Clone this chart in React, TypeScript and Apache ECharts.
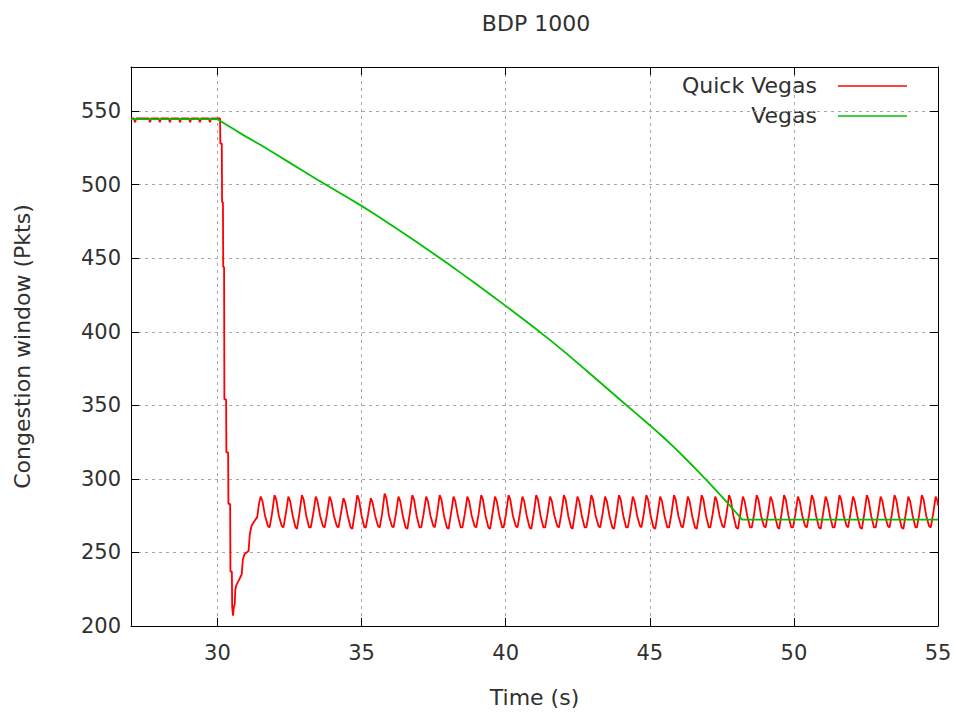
import React, { useEffect, useRef } from "react";
import * as echarts from "echarts";

const TITLE = "BDP 1000";
const X_NAME = "Time (s)";
const Y_NAME = "Congestion window (Pkts)";
const SERIES_NAMES = ["Quick Vegas", "Vegas"];
const X_MIN = 27;
const X_MAX = 55;
const Y_MIN = 200;
const Y_MAX = 580;
const X_TICKS = [30, 35, 40, 45, 50, 55];
const Y_INTERVAL = 50;

// Quick Vegas: steady state before 30 s
const quickVegasBefore: [number, number][] = [
  [27.0, 545], [27.1, 545], [27.14, 542.5], [27.18, 545], [27.62, 545], [27.66, 542.5], [27.7, 545],
  [27.96, 545], [28.0, 542.5], [28.04, 545], [28.31, 545], [28.35, 542.5], [28.39, 545],
  [28.66, 545], [28.7, 542.5], [28.74, 545], [29.01, 545], [29.05, 542.5], [29.09, 545],
  [29.35, 545], [29.39, 542.5], [29.43, 545], [29.7, 545], [29.74, 542.5], [29.78, 545], [30.06, 545],
];

// Quick Vegas: drop and recovery
const quickVegasDrop: [number, number][] = [
  [30.09, 545], [30.1, 528], [30.15, 528], [30.16, 488], [30.19, 488], [30.2, 444], [30.23, 444],
  [30.24, 354], [30.3, 354], [30.31, 318], [30.37, 318], [30.38, 283], [30.44, 283], [30.45, 237],
  [30.5, 237], [30.51, 213], [30.53, 213], [30.54, 207], [30.56, 207], [30.57, 213], [30.6, 215],
  [30.62, 225], [30.66, 228], [30.74, 231], [30.84, 235], [30.88, 245], [30.94, 249], [31.08, 251],
  [31.12, 262], [31.18, 268], [31.27, 271], [31.38, 274], [31.44, 283],
];

// Quick Vegas: oscillation after recovery
const quickVegasOsc: [number, number][] = [
  [31.5, 288], [31.56, 285], [31.65, 275], [31.75, 268],
  [31.81, 267], [31.89, 276], [31.98, 289], [32.04, 286], [32.13, 275], [32.23, 268],
  [32.29, 267], [32.37, 276], [32.46, 288], [32.52, 285], [32.61, 275], [32.71, 267],
  [32.76, 266], [32.84, 276], [32.93, 289], [32.99, 286], [33.08, 275], [33.18, 267],
  [33.24, 267], [33.32, 276], [33.41, 288], [33.47, 285], [33.56, 275], [33.66, 268],
  [33.72, 267], [33.8, 276], [33.89, 288], [33.95, 285], [34.04, 275], [34.14, 268],
  [34.2, 267], [34.28, 276], [34.37, 287], [34.43, 284], [34.52, 275], [34.62, 267],
  [34.68, 266], [34.76, 276], [34.85, 289], [34.91, 286], [35.0, 275], [35.1, 267],
  [35.15, 267], [35.23, 276], [35.32, 287], [35.38, 284], [35.47, 275], [35.57, 268],
  [35.63, 267], [35.71, 276], [35.8, 290], [35.86, 287], [35.95, 275], [36.05, 268],
  [36.11, 267], [36.19, 276], [36.28, 288], [36.34, 285], [36.43, 275], [36.53, 267],
  [36.59, 266], [36.67, 276], [36.76, 289], [36.82, 286], [36.91, 275], [37.01, 267],
  [37.07, 267], [37.15, 276], [37.24, 288], [37.3, 285], [37.39, 275], [37.49, 268],
  [37.54, 267], [37.62, 276], [37.71, 289], [37.77, 286], [37.86, 275], [37.96, 267],
  [38.02, 266], [38.1, 276], [38.19, 288], [38.25, 285], [38.34, 275], [38.44, 267],
  [38.5, 267], [38.58, 276], [38.67, 288], [38.73, 285], [38.82, 275], [38.92, 268],
  [38.98, 267], [39.06, 276], [39.15, 289], [39.21, 286], [39.3, 275], [39.4, 267],
  [39.46, 266], [39.54, 276], [39.63, 288], [39.69, 285], [39.78, 275], [39.88, 267],
  [39.93, 267], [40.01, 276], [40.1, 289], [40.16, 286], [40.25, 275], [40.35, 268],
  [40.41, 267], [40.49, 276], [40.58, 288], [40.64, 285], [40.73, 275], [40.83, 267],
  [40.89, 266], [40.97, 276], [41.06, 289], [41.12, 286], [41.21, 275], [41.31, 267],
  [41.37, 267], [41.45, 276], [41.54, 288], [41.6, 285], [41.69, 275], [41.79, 268],
  [41.85, 267], [41.93, 276], [42.02, 289], [42.08, 286], [42.17, 275], [42.27, 267],
  [42.32, 266], [42.4, 276], [42.49, 288], [42.55, 285], [42.64, 275], [42.74, 267],
  [42.8, 267], [42.88, 276], [42.97, 289], [43.03, 286], [43.12, 275], [43.22, 268],
  [43.28, 267], [43.36, 276], [43.45, 288], [43.51, 285], [43.6, 275], [43.7, 267],
  [43.76, 266], [43.84, 276], [43.93, 289], [43.99, 286], [44.08, 275], [44.18, 267],
  [44.24, 267], [44.32, 276], [44.41, 288], [44.47, 285], [44.56, 275], [44.66, 268],
  [44.71, 267], [44.79, 276], [44.88, 289], [44.94, 286], [45.03, 275], [45.13, 267],
  [45.19, 266], [45.27, 276], [45.36, 288], [45.42, 285], [45.51, 275], [45.61, 267],
  [45.67, 267], [45.75, 276], [45.84, 289], [45.9, 286], [45.99, 275], [46.09, 268],
  [46.15, 267], [46.23, 276], [46.32, 288], [46.38, 285], [46.47, 275], [46.57, 267],
  [46.63, 266], [46.71, 276], [46.8, 289], [46.86, 286], [46.95, 275], [47.05, 267],
  [47.1, 267], [47.18, 276], [47.27, 288], [47.33, 285], [47.42, 275], [47.52, 268],
  [47.58, 267], [47.66, 276], [47.75, 289], [47.81, 286], [47.9, 275], [48.0, 267],
  [48.06, 266], [48.14, 276], [48.23, 288], [48.29, 285], [48.38, 275], [48.48, 267],
  [48.54, 267], [48.62, 276], [48.71, 289], [48.77, 286], [48.86, 275], [48.96, 268],
  [49.02, 267], [49.1, 276], [49.19, 288], [49.25, 285], [49.34, 275], [49.44, 267],
  [49.49, 266], [49.57, 276], [49.66, 289], [49.72, 286], [49.81, 275], [49.91, 267],
  [49.97, 267], [50.05, 276], [50.14, 288], [50.2, 285], [50.29, 275], [50.39, 268],
  [50.45, 267], [50.53, 276], [50.62, 289], [50.68, 286], [50.77, 275], [50.87, 267],
  [50.93, 266], [51.01, 276], [51.1, 288], [51.16, 285], [51.25, 275], [51.35, 267],
  [51.41, 267], [51.49, 276], [51.58, 289], [51.64, 286], [51.73, 275], [51.83, 268],
  [51.88, 267], [51.96, 276], [52.05, 288], [52.11, 285], [52.2, 275], [52.3, 267],
  [52.36, 266], [52.44, 276], [52.53, 289], [52.59, 286], [52.68, 275], [52.78, 267],
  [52.84, 267], [52.92, 276], [53.01, 288], [53.07, 285], [53.16, 275], [53.26, 268],
  [53.32, 267], [53.4, 276], [53.49, 289], [53.55, 286], [53.64, 275], [53.74, 267],
  [53.8, 266], [53.88, 276], [53.97, 288], [54.03, 285], [54.12, 275], [54.22, 267],
  [54.27, 267], [54.35, 276], [54.44, 289], [54.5, 286], [54.59, 275], [54.69, 268],
  [54.75, 267], [54.83, 276], [54.92, 288], [54.98, 285], [55.0, 282],
];

// Vegas
const vegas: [number, number][] = [
  [27.0, 544.5], [30.0, 544.5], [30.5, 538.5], [31.0, 532.5], [31.5, 527], [32.0, 521], [32.5, 515],
  [33.0, 509], [33.5, 503], [34.0, 497.3], [34.5, 491.5], [35.0, 485.6], [35.5, 479.4], [36.0, 473],
  [36.5, 466.5], [37.0, 459.9], [37.5, 453.1], [38.0, 446.2], [38.5, 439.2], [39.0, 432.1], [39.5, 424.9],
  [40.0, 417.6], [40.5, 410.2], [41.0, 402.7], [41.5, 395], [42.0, 387], [42.5, 378.7], [43.0, 370.3],
  [43.5, 361.8], [44.0, 353.3], [44.5, 344.9], [45.0, 336.5], [45.5, 327.8], [46.0, 318.5], [46.5, 308.6],
  [47.0, 298.5], [47.5, 288], [48.0, 277], [48.2, 272.3], [55.0, 272.3],
];

const COLORS = ["#ff0000", "#00c000"];
const FONT = "DejaVu Sans";
const TEXT = "#303030";

export default function App() {
  const ref = useRef<HTMLDivElement>(null);
  useEffect(() => {
    if (!ref.current) return;
    const chart = echarts.init(ref.current, undefined, { renderer: "svg" });
    const quickVegas = [...quickVegasBefore, ...quickVegasDrop, ...quickVegasOsc];
    const grid = { left: 131, right: 18, top: 67, bottom: 89 };
    const gridLine = { show: true, lineStyle: { color: "#a8a8a8", type: [3, 4] as any, width: 1 } };
    const axisLine = { show: true, lineStyle: { color: "#000", width: 1 } };
    const tick = { show: true, inside: true, length: 8, lineStyle: { color: "#000", width: 1 } };
    chart.setOption({
      animation: false,
      backgroundColor: "#ffffff",
      title: {
        text: TITLE,
        left: 531,
        top: 7,
        textAlign: "center",
        textStyle: { fontFamily: FONT, fontSize: 22, fontWeight: "normal", color: TEXT },
      },
      grid,
      xAxis: [
        {
          type: "value",
          min: X_MIN,
          max: X_MAX,
          position: "bottom",
          name: X_NAME,
          nameLocation: "middle",
          nameGap: 60,
          nameTextStyle: { fontFamily: FONT, fontSize: 22, color: TEXT },
          axisLine,
          axisTick: { ...tick, customValues: X_TICKS },
          axisLabel: { customValues: X_TICKS, margin: 16, fontFamily: FONT, fontSize: 21, color: TEXT },
          splitLine: gridLine,
        },
        {
          type: "value",
          min: X_MIN,
          max: X_MAX,
          position: "top",
          axisLine,
          axisTick: { ...tick, customValues: X_TICKS },
          axisLabel: { show: false },
          splitLine: { show: false },
        },
      ],
      yAxis: [
        {
          type: "value",
          min: Y_MIN,
          max: Y_MAX,
          interval: Y_INTERVAL,
          position: "left",
          name: Y_NAME,
          nameLocation: "middle",
          nameGap: 98,
          nameTextStyle: { fontFamily: FONT, fontSize: 22, color: TEXT },
          axisLine,
          axisTick: tick,
          axisLabel: { showMaxLabel: false, margin: 10, fontFamily: FONT, fontSize: 21, color: TEXT },
          splitLine: gridLine,
        },
        {
          type: "value",
          min: Y_MIN,
          max: Y_MAX,
          interval: Y_INTERVAL,
          position: "right",
          axisLine,
          axisTick: tick,
          axisLabel: { show: false },
          splitLine: { show: false },
        },
      ],
      series: [
        {
          name: SERIES_NAMES[0],
          type: "line",
          xAxisIndex: 0,
          yAxisIndex: 0,
          data: quickVegas,
          showSymbol: false,
          symbol: "none",
          lineStyle: { color: COLORS[0], width: 1.8 },
          itemStyle: { color: COLORS[0] },
          z: 3,
        },
        {
          name: SERIES_NAMES[1],
          type: "line",
          xAxisIndex: 0,
          yAxisIndex: 0,
          data: vegas,
          showSymbol: false,
          symbol: "none",
          lineStyle: { color: COLORS[1], width: 1.8 },
          itemStyle: { color: COLORS[1] },
          z: 4,
        },
      ],
      graphic: [
        {
          type: "text",
          right: 956 - 817,
          top: 74,
          style: { text: SERIES_NAMES[0], fontFamily: FONT, fontSize: 22, fill: TEXT, textAlign: "right" },
        },
        {
          type: "line",
          shape: { x1: 838, y1: 86, x2: 907, y2: 86 },
          style: { stroke: COLORS[0], lineWidth: 1.5 },
        },
        {
          type: "text",
          right: 956 - 817,
          top: 104,
          style: { text: SERIES_NAMES[1], fontFamily: FONT, fontSize: 22, fill: TEXT, textAlign: "right" },
        },
        {
          type: "line",
          shape: { x1: 838, y1: 116, x2: 907, y2: 116 },
          style: { stroke: COLORS[1], lineWidth: 1.5 },
        },
      ],
    });
    return () => chart.dispose();
  }, []);
  return (
    <div
      ref={ref}
      style={{ position: "fixed", left: 0, top: 0, width: 956, height: 715, background: "#fff" }}
    />
  );
}
